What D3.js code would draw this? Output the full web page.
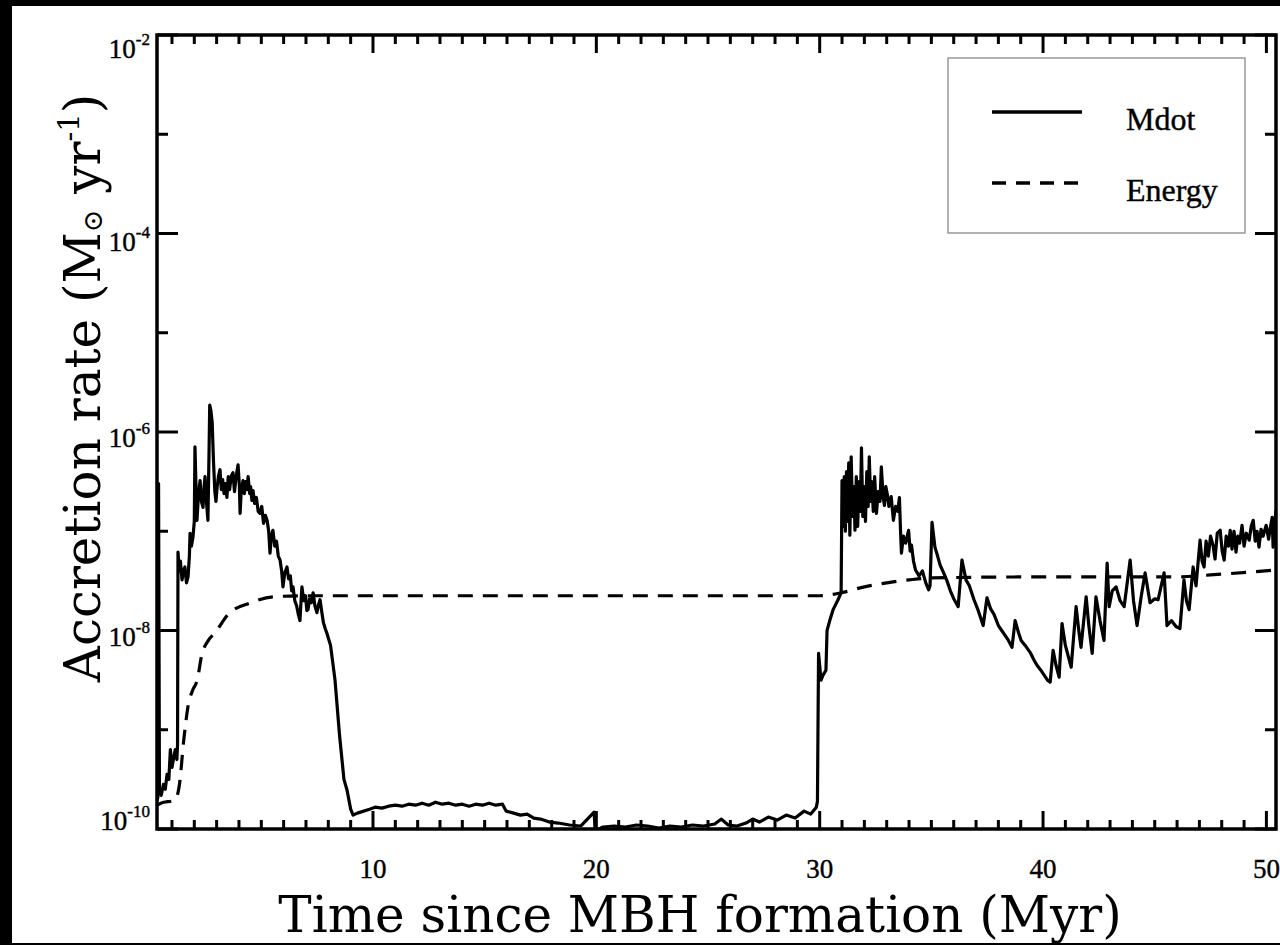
<!DOCTYPE html>
<html><head><meta charset="utf-8">
<script src="https://cdn.jsdelivr.net/npm/d3@7"></script>
<style>html,body{margin:0;padding:0;background:#000;} svg{display:block;}</style>
</head><body><svg id="c" width="1280" height="945"></svg>
<script>
// ---- data (time in Myr, log10 of accretion rate in Msun/yr) ----
const mdotTime = [0.33,0.37,0.40,0.44,0.52,0.62,0.70,0.78,0.86,0.93,1.00,1.08,1.15,1.22,1.25,1.27,1.32,1.38,1.45,1.52,1.58,1.65,1.72,1.78,1.81,1.87,1.94,2.00,2.03,2.07,2.12,2.19,2.26,2.32,2.39,2.44,2.48,2.55,2.61,2.66,2.69,2.74,2.80,2.86,2.92,2.97,3.02,3.08,3.15,3.21,3.27,3.33,3.40,3.46,3.52,3.58,3.66,3.73,3.80,3.87,3.96,4.02,4.05,4.10,4.18,4.24,4.30,4.36,4.41,4.48,4.52,4.58,4.63,4.70,4.78,4.86,4.94,5.02,5.10,5.18,5.26,5.33,5.39,5.45,5.52,5.60,5.68,5.76,5.84,5.91,5.97,6.05,6.15,6.22,6.30,6.36,6.42,6.50,6.58,6.66,6.73,6.78,6.82,6.90,6.98,7.04,7.09,7.16,7.24,7.32,7.40,7.49,7.56,7.63,7.70,7.78,7.86,7.94,8.10,8.30,8.50,8.70,8.84,9.00,9.11,9.30,9.85,10.1,10.4,10.7,11.0,11.3,11.6,11.9,12.2,12.5,12.8,13.1,13.4,13.7,14.0,14.3,14.6,14.9,15.2,15.5,15.8,15.96,16.3,16.6,16.9,17.2,17.5,17.9,18.3,18.8,19.3,19.90,19.95,20.3,20.8,21.3,21.8,22.3,22.8,23.3,23.8,24.3,24.8,25.3,25.6,25.9,26.3,26.7,27.0,27.3,27.7,28.1,28.5,28.9,29.3,29.6,29.85,29.9,29.93,29.95,30.06,30.15,30.28,30.33,30.45,30.6,30.8,30.96,31.0,31.05,31.10,31.15,31.20,31.25,31.30,31.35,31.41,31.47,31.53,31.58,31.64,31.70,31.76,31.82,31.87,31.93,31.99,32.05,32.11,32.17,32.22,32.28,32.33,32.40,32.46,32.54,32.62,32.70,32.76,32.84,32.90,32.96,33.02,33.10,33.20,33.30,33.40,33.50,33.57,33.62,33.66,33.75,33.85,33.98,34.05,34.11,34.20,34.29,34.45,34.60,34.75,34.88,34.94,35.03,35.16,35.28,35.39,35.55,35.70,35.85,36.00,36.20,36.37,36.55,36.70,36.91,37.10,37.32,37.49,37.65,37.81,38.00,38.15,38.30,38.45,38.61,38.75,38.90,39.02,39.20,39.42,39.60,39.73,39.90,40.05,40.20,40.32,40.45,40.58,40.72,40.85,41.0,41.26,41.48,41.6,41.7,41.93,42.05,42.2,42.37,42.55,42.73,42.87,42.96,43.1,43.27,43.45,43.63,43.9,44.05,44.21,44.4,44.57,44.79,45.0,45.15,45.42,45.55,45.75,45.95,46.13,46.31,46.42,46.54,46.72,46.85,47.03,47.12,47.21,47.30,47.40,47.50,47.61,47.70,47.80,47.93,48.02,48.11,48.20,48.30,48.38,48.46,48.55,48.64,48.72,48.80,48.91,49.00,49.10,49.23,49.32,49.41,49.50,49.58,49.67,49.76,49.85,49.99,50.10,50.18,50.26,50.30,50.36,50.43];
const mdotLog = [-9.71,-9.68,-6.52,-9.62,-9.66,-9.55,-9.60,-9.45,-9.50,-9.20,-9.38,-9.28,-9.20,-9.30,-9.15,-7.21,-7.40,-7.30,-7.49,-7.40,-7.36,-7.52,-7.46,-7.25,-7.02,-7.15,-7.06,-6.90,-6.15,-6.50,-6.89,-6.62,-6.49,-6.70,-6.76,-6.55,-6.45,-6.72,-6.89,-6.20,-5.73,-5.78,-5.90,-6.30,-6.60,-6.70,-6.56,-6.45,-6.38,-6.58,-6.48,-6.62,-6.52,-6.66,-6.45,-6.58,-6.44,-6.41,-6.60,-6.45,-6.33,-6.55,-6.82,-6.60,-6.49,-6.62,-6.50,-6.58,-6.45,-6.62,-6.55,-6.69,-6.59,-6.72,-6.66,-6.80,-6.82,-6.75,-6.92,-6.84,-6.89,-7.00,-7.22,-7.05,-6.99,-7.15,-7.10,-7.25,-7.29,-7.40,-7.56,-7.42,-7.36,-7.48,-7.45,-7.60,-7.56,-7.70,-7.75,-7.84,-7.90,-7.70,-7.56,-7.70,-7.65,-7.80,-7.79,-7.68,-7.72,-7.62,-7.75,-7.82,-7.74,-7.69,-7.80,-7.92,-7.98,-8.03,-8.15,-8.50,-9.05,-9.50,-9.61,-9.80,-9.86,-9.84,-9.80,-9.78,-9.79,-9.77,-9.76,-9.77,-9.75,-9.76,-9.74,-9.76,-9.73,-9.75,-9.74,-9.76,-9.75,-9.77,-9.75,-9.76,-9.74,-9.76,-9.75,-9.82,-9.84,-9.86,-9.85,-9.89,-9.90,-9.93,-9.94,-9.96,-9.97,-9.83,-10.02,-9.98,-9.97,-9.98,-9.96,-9.97,-9.99,-9.97,-9.98,-9.96,-9.97,-9.95,-9.90,-9.96,-9.97,-9.94,-9.90,-9.93,-9.88,-9.91,-9.86,-9.89,-9.82,-9.85,-9.78,-9.72,-8.80,-8.23,-8.50,-8.45,-8.40,-8.00,-7.90,-7.79,-7.70,-7.62,-6.49,-6.95,-6.45,-7.00,-6.40,-6.90,-6.31,-7.04,-6.25,-6.85,-6.55,-6.99,-6.45,-6.95,-6.50,-6.80,-6.16,-6.85,-6.55,-6.90,-6.40,-6.75,-6.25,-6.70,-6.50,-6.80,-6.45,-6.82,-6.60,-6.70,-6.35,-6.65,-6.74,-6.55,-6.62,-6.75,-6.65,-6.89,-6.75,-6.80,-6.66,-7.00,-7.22,-7.05,-7.12,-6.99,-7.20,-7.14,-7.30,-7.39,-7.45,-7.40,-7.52,-7.59,-7.55,-6.91,-7.16,-7.25,-7.34,-7.42,-7.50,-7.60,-7.68,-7.76,-7.29,-7.49,-7.55,-7.69,-7.80,-7.95,-7.67,-7.78,-7.84,-7.95,-8.00,-8.05,-8.10,-8.17,-7.90,-8.02,-8.10,-8.15,-8.22,-8.30,-8.35,-8.40,-8.45,-8.50,-8.52,-8.20,-8.35,-8.47,-7.93,-8.15,-8.37,-7.76,-8.00,-8.17,-7.66,-7.95,-8.23,-7.66,-7.90,-8.10,-7.32,-7.76,-7.60,-7.56,-7.70,-7.76,-7.29,-7.70,-7.95,-7.65,-7.42,-7.72,-7.68,-7.69,-7.42,-7.95,-7.90,-7.96,-7.98,-7.49,-7.70,-7.79,-7.36,-7.55,-7.09,-7.30,-7.36,-7.10,-7.25,-7.05,-7.14,-7.28,-7.02,-6.99,-7.20,-7.29,-7.05,-7.15,-6.99,-7.18,-7.00,-7.21,-7.05,-7.12,-6.94,-7.15,-7.02,-7.09,-6.95,-6.89,-7.10,-7.00,-7.16,-6.98,-7.05,-6.94,-7.08,-6.96,-6.86,-7.16,-6.95,-6.79];
const energyTime = [0.33,0.5,1.13,1.33,1.53,1.73,1.93,2.13,2.33,2.63,2.94,3.54,4.54,5.54,7.0,30.0,30.96,32.0,33.0,34.0,35.03,40.0,46.0,47.5,50.43];
const energyLog = [-9.76,-9.74,-9.71,-9.56,-9.10,-8.75,-8.60,-8.50,-8.25,-8.10,-8.02,-7.83,-7.72,-7.66,-7.65,-7.65,-7.62,-7.56,-7.52,-7.49,-7.47,-7.46,-7.46,-7.44,-7.39];
const xTickLabels = [10,20,30,40,50];
const yTickExponents = [-2,-4,-6,-8,-10];
const legendLabels = ["Mdot","Energy"];

// ---- layout / style ----
const L = 157, R = 1276, T = 35, B = 829;
const yLabelNudge = [23,17,15,15,1];
const svg = d3.select("#c");
svg.append("rect").attr("x",12).attr("y",6).attr("width",1268).attr("height",937).attr("fill","#fff");

const x = d3.scaleLinear().domain([0.33,50.43]).range([L,R]);
const y = d3.scaleLog().domain([1e-10,1e-2]).range([B,T]);

svg.append("defs").append("clipPath").attr("id","clip")
  .append("rect").attr("x",L).attr("y",T).attr("width",R-L).attr("height",B-T);

const mdot = mdotTime.map((t,i)=>({t, v:Math.pow(10,mdotLog[i])}));
const energy = energyTime.map((t,i)=>({t, v:Math.pow(10,energyLog[i])}));
const line = d3.line().x(d=>x(d.t)).y(d=>y(d.v));
const lineSmooth = d3.line().x(d=>x(d.t)).y(d=>y(d.v)).curve(d3.curveMonotoneX);

const g = svg.append("g").attr("clip-path","url(#clip)");
g.append("path").datum(energy).attr("d",lineSmooth).attr("fill","none").attr("stroke","#000")
  .attr("stroke-width",3.2).attr("stroke-dasharray","15,10");
g.append("path").datum(mdot).attr("d",line).attr("fill","none").attr("stroke","#000")
  .attr("stroke-width",3.2).attr("stroke-linejoin","round");

// ticks
const ax = svg.append("g").attr("stroke","#000");
d3.range(1,51).forEach(t=>{
  const len = (t%10===0)?18:9;
  ax.append("line").attr("x1",x(t)).attr("x2",x(t)).attr("y1",B).attr("y2",B-len).attr("stroke-width",3);
  ax.append("line").attr("x1",x(t)).attr("x2",x(t)).attr("y1",T).attr("y2",T+len).attr("stroke-width",3);
});
d3.range(-10,-1).forEach(e=>{
  const len = (e%2===0)?21:11;
  const yy = y(Math.pow(10,e));
  ax.append("line").attr("x1",L).attr("x2",L+len).attr("y1",yy).attr("y2",yy).attr("stroke-width",3);
  ax.append("line").attr("x1",R).attr("x2",R-len).attr("y1",yy).attr("y2",yy).attr("stroke-width",3);
});
svg.append("rect").attr("x",L).attr("y",T).attr("width",R-L).attr("height",B-T)
  .attr("fill","none").attr("stroke","#000").attr("stroke-width",3.5);

// tick labels
const tickFont = "'Liberation Serif','Times New Roman',serif";
xTickLabels.forEach(v=>{
  svg.append("text").attr("x",x(v)).attr("y",878).attr("text-anchor","middle")
    .attr("font-family",tickFont).attr("font-size",27).attr("fill","#000")
    .attr("stroke","#000").attr("stroke-width",0.4).text(v);
});
yTickExponents.forEach((e,i)=>{
  const t = svg.append("text").attr("x",150).attr("y",y(Math.pow(10,e))+yLabelNudge[i])
    .attr("text-anchor","end").attr("font-family",tickFont).attr("font-size",27).attr("fill","#000")
    .attr("stroke","#000").attr("stroke-width",0.4);
  t.append("tspan").text("10");
  t.append("tspan").attr("dy",-13).attr("font-size",17).text(e);
});

// axis titles
const titleFont = "'DejaVu Serif',serif";
svg.append("text").attr("x",700).attr("y",932).attr("text-anchor","middle")
  .attr("font-family",titleFont).attr("font-size",50).attr("fill","#000")
  .text("Time since MBH formation (Myr)");
const yt = svg.append("text").attr("transform","translate(100,388) rotate(-90)")
  .attr("text-anchor","middle").attr("font-family",titleFont).attr("font-size",50).attr("fill","#000");
yt.append("tspan").text("Accretion rate (M");
yt.append("tspan").attr("font-size",27).attr("dy",2).text("⊙");
yt.append("tspan").attr("dy",-2).text(" yr");
yt.append("tspan").attr("font-size",29).attr("dy",-21).text("-1");
yt.append("tspan").attr("dy",21).text(")");

// legend
svg.append("rect").attr("x",948).attr("y",58).attr("width",297).attr("height",175)
  .attr("fill","#fff").attr("stroke","#999").attr("stroke-width",1.5);
const legY = [112,183];
legendLabels.forEach((lab,i)=>{
  svg.append("line").attr("x1",992).attr("x2",1082).attr("y1",legY[i]).attr("y2",legY[i])
    .attr("stroke","#000").attr("stroke-width",3.5).attr("stroke-dasharray",i?"14,10":null);
  svg.append("text").attr("x",1126).attr("y",legY[i]+18).attr("font-family",tickFont)
    .attr("font-size",32).attr("fill","#000").attr("stroke","#000").attr("stroke-width",0.4).text(lab);
});
</script></body></html>
